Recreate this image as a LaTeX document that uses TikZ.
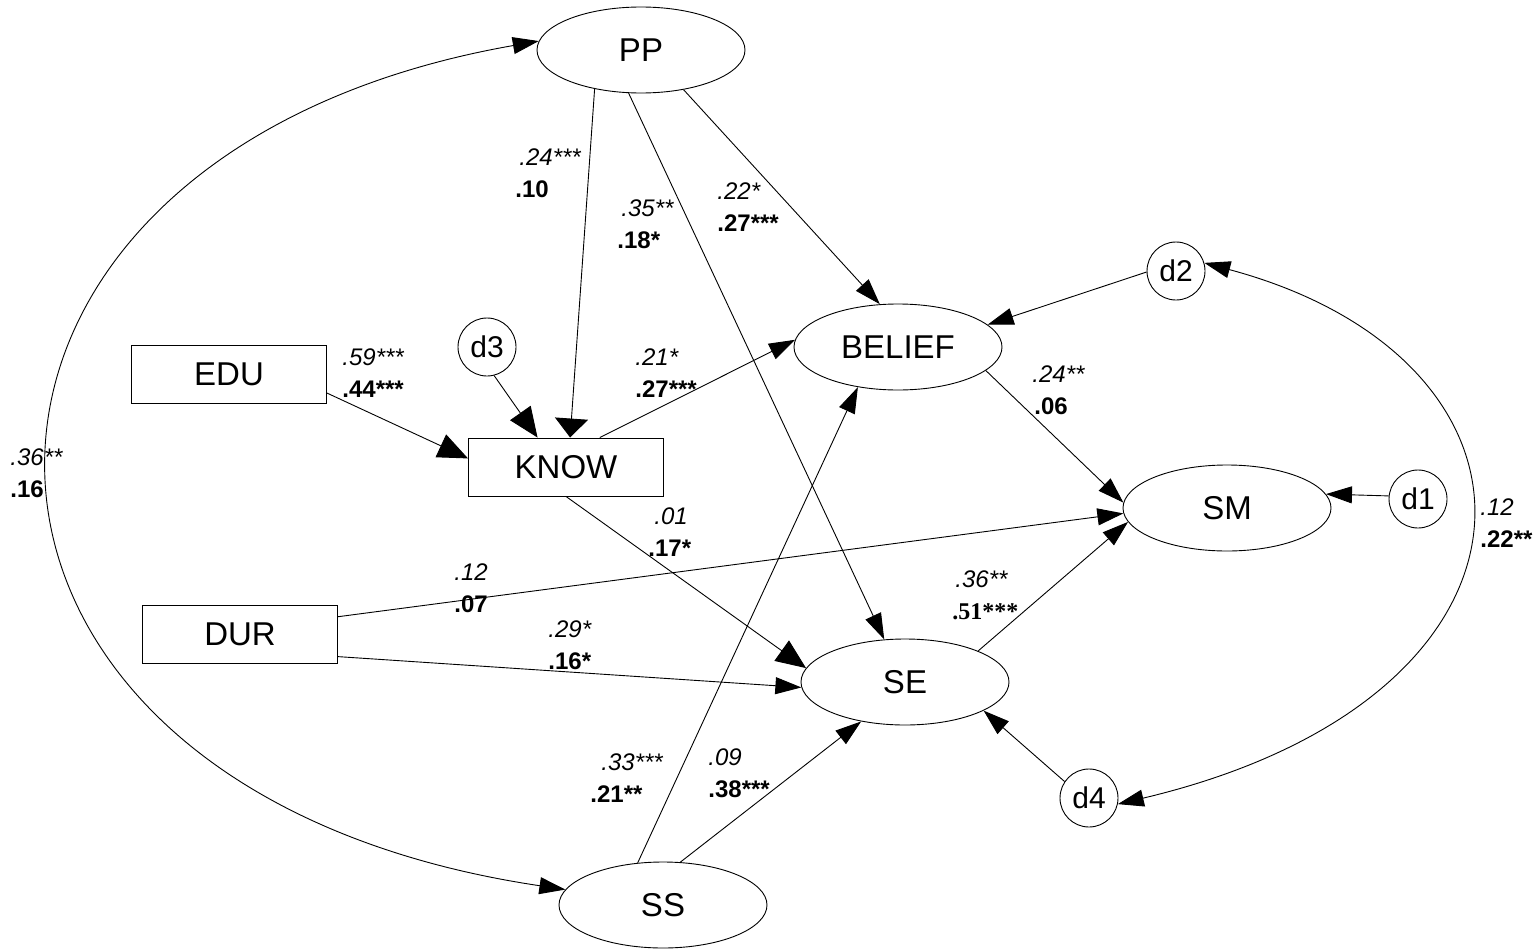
\documentclass[tikz,border=0pt]{standalone}
\usepackage{fontspec}
\setmainfont{Liberation Sans}
\newfontfamily\timesfam{Liberation Serif}
\usetikzlibrary{shapes.geometric,arrows.meta}
\begin{document}
\begin{tikzpicture}[x=1pt,y=-1pt,line width=0.9pt,
  latent/.style={draw,ellipse,minimum width=208pt,minimum height=86pt,inner sep=0pt,font=\fontsize{33}{36}\selectfont},
  observed/.style={draw,rectangle,minimum width=195pt,minimum height=58pt,inner sep=0pt,font=\fontsize{33}{36}\selectfont},
  resid/.style={draw,circle,minimum size=58pt,inner sep=0pt,font=\fontsize{30}{32}\selectfont},
  arr/.style={-{Triangle[length=26pt,width=17pt]}},
  bigarr/.style={-{Triangle[length=30pt,width=25pt]}},
  widearr/.style={-{Triangle[length=19pt,width=33pt]}},
  cov/.style={{Triangle[length=26pt,width=17pt]}-{Triangle[length=26pt,width=17pt]}},
  coef/.style={font=\fontsize{24}{32}\selectfont,align=left,inner sep=0pt,anchor=north west}]
\useasboundingbox (0,0) rectangle (1540,950);

% latent variables
\node[latent] (pp) at (641,50) {PP};
\node[latent] (belief) at (898,347) {BELIEF};
\node[latent] (sm) at (1227,508) {SM};
\node[latent] (se) at (905,682) {SE};
\node[latent] (ss) at (663,905) {SS};
% observed variables
\node[observed] (edu) at (229,374) {EDU};
\node[observed] (know) at (566,467) {KNOW};
\node[observed] (dur) at (240,634) {DUR};
% disturbances
\node[resid] (d1) at (1418,499) {d1};
\node[resid] (d2) at (1176,271) {d2};
\node[resid] (d3) at (487,347) {d3};
\node[resid] (d4) at (1089,798) {d4};

% structural paths
\draw[widearr] (pp.-140) -- (know.82);
\draw[arr] (pp.-106) -- (se.116);
\draw[arr] (pp.-43) -- (belief.113);
\draw[bigarr] (d3.-76) -- (know.134);
\draw[bigarr] (edu.-11) -- (know.175);
\draw[arr] (know.41) -- (belief.176);
\draw[arr] (d2.182) -- (belief.14);
\draw[arr] (belief.-15) -- (sm.177);
\draw[arr] (d1.174) -- (sm.8);
\draw[bigarr] (know.south) -- (se.172);
\draw[arr] (dur.10) -- (sm.-177);
\draw[arr] (dur.-13) -- (se.-177);
\draw[arr] (ss.121) -- (belief.-135);
\draw[arr] (ss.68) -- (se.-138);
\draw[arr] (d4.146) -- (se.-20);
\draw[arr] (se.23) -- (sm.-172);

% covariances
\draw[cov] (ss.171) .. controls (-116,788) and (-116,156) .. (pp.175);
\draw[cov] (d2.16) .. controls (1570,361) and (1570,697) .. (d4.-12);

% coefficients
\node[coef] (c1) at (515,148) {\hspace*{4pt}\textit{.24***}\\\textbf{.10}};
\node[coef] (c2) at (617,199) {\hspace*{4pt}\textit{.35**}\\\textbf{.18*}};
\node[coef] (c3) at (717,182) {\textit{.22*}\\\textbf{.27***}};
\node[coef] (c4) at (342,348) {\textit{.59***}\\\textbf{.44***}};
\node[coef] (c5) at (635,348) {\textit{.21*}\\\textbf{.27***}};
\node[coef] (c6) at (10,448) {\textit{.36**}\\\textbf{.16}};
\node[coef] (c7) at (1032,365) {\textit{.24**}\\\hspace*{2pt}\textbf{.06}};
\node[coef] (c8) at (1480,498) {\textit{.12}\\\textbf{.22**}};
\node[coef] (c9) at (454,563) {\textit{.12}\\\textbf{.07}};
\node[coef] (c10) at (548,620) {\textit{.29*}\\\textbf{.16*}};
\node[coef] (c11) at (648,507) {\hspace*{6pt}\textit{.01}\\\textbf{.17*}};
\node[coef] (c12) at (590,753) {\hspace*{11pt}\textit{.33***}\\\textbf{.21**}};
\node[coef] (c13) at (708,748) {\textit{.09}\\\textbf{.38***}};
\node[coef] (c14) at (952,570) {\hspace*{3pt}\textit{.36**}\\{\timesfam\bfseries .51***}};
\end{tikzpicture}
\end{document}
